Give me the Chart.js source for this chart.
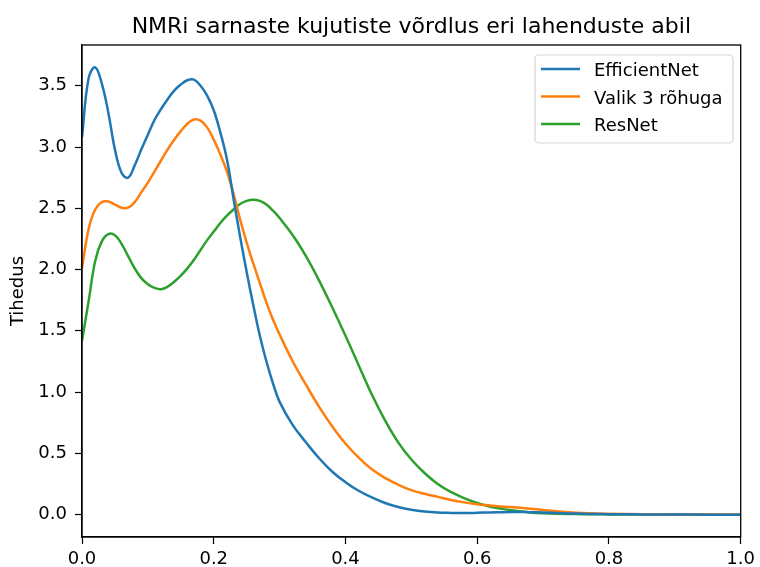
<!DOCTYPE html>
<html><head><meta charset="utf-8">
<script src="https://cdn.jsdelivr.net/npm/chart.js@4"></script>
<style>html,body{margin:0;padding:0;background:#fff}canvas{display:block}</style>
</head><body>
<canvas id="c" width="760" height="567"></canvas>
<script>
const chartTitle = "NMRi sarnaste kujutiste võrdlus eri lahenduste abil";
const yAxisLabel = "Tihedus";
const seriesNames = ["EfficientNet", "Valik 3 rõhuga", "ResNet"];
const seriesColors = ["#1f77b4", "#ff7f0e", "#2ca02c"];

const xValues = [
  0, 0.01, 0.02, 0.03, 0.04, 0.05, 0.06, 0.07, 0.08, 0.09,
  0.10, 0.11, 0.12, 0.13, 0.14, 0.15, 0.16, 0.17, 0.18, 0.19,
  0.20, 0.21, 0.22, 0.23, 0.24, 0.25, 0.26, 0.27, 0.28, 0.29,
  0.30, 0.32, 0.34, 0.36, 0.38,
  0.40, 0.42, 0.44, 0.46, 0.48,
  0.50, 0.52, 0.54, 0.56, 0.58,
  0.60, 0.62, 0.64, 0.66, 0.68,
  0.70, 0.72, 0.74, 0.76, 0.78,
  0.80, 0.85, 0.90, 0.95, 1.00
];
const efficientNet = [
  3.08, 3.56, 3.65, 3.52, 3.28, 2.98, 2.79, 2.75, 2.85, 2.98,
  3.10, 3.22, 3.31, 3.39, 3.46, 3.51, 3.545, 3.55, 3.50, 3.42,
  3.30, 3.12, 2.90, 2.58, 2.27, 1.98, 1.71, 1.46, 1.25, 1.07,
  0.92, 0.73, 0.59, 0.46, 0.35,
  0.265, 0.195, 0.14, 0.095, 0.063,
  0.04, 0.025, 0.017, 0.014, 0.013,
  0.015, 0.018, 0.02, 0.022, 0.02,
  0.017, 0.013, 0.01, 0.007, 0.005,
  0.004, 0.002, 0.001, 0, 0
];
const valik3 = [
  2.01, 2.33, 2.49, 2.55, 2.555, 2.53, 2.505, 2.505, 2.55, 2.63,
  2.71, 2.80, 2.89, 2.98, 3.06, 3.13, 3.19, 3.225, 3.215, 3.16,
  3.06, 2.94, 2.80, 2.62, 2.41, 2.22, 2.05, 1.89, 1.73, 1.59,
  1.47, 1.25, 1.06, 0.88, 0.72,
  0.58, 0.465, 0.37, 0.30, 0.245,
  0.20, 0.17, 0.145, 0.12, 0.10,
  0.085, 0.075, 0.065, 0.058, 0.048,
  0.038, 0.028, 0.02, 0.014, 0.01,
  0.007, 0.004, 0.002, 0.001, 0
];
const resNet = [
  1.42, 1.74, 2.07, 2.23, 2.29, 2.28, 2.21, 2.11, 2.01, 1.93,
  1.88, 1.85, 1.84, 1.86, 1.90, 1.95, 2.01, 2.08, 2.16, 2.24,
  2.31, 2.38, 2.44, 2.49, 2.535, 2.56, 2.57, 2.56, 2.53, 2.48,
  2.42, 2.28, 2.11, 1.91, 1.69,
  1.46, 1.22, 0.98, 0.77, 0.59,
  0.45, 0.34, 0.25, 0.185, 0.135,
  0.095, 0.065, 0.045, 0.03, 0.018,
  0.011, 0.007, 0.005, 0.004, 0.003,
  0.002, 0.001, 0.001, 0, 0
];
const xTicks = [0, 0.2, 0.4, 0.6, 0.8, 1.0];
const yTicks = [0, 0.5, 1.0, 1.5, 2.0, 2.5, 3.0, 3.5];

const FONT = "'DejaVu Sans', sans-serif";
const seriesValues = [efficientNet, valik3, resNet];

const datasets = seriesNames.map((name, i) => ({
  label: name,
  data: xValues.map((x, j) => ({ x: x, y: seriesValues[i][j] })),
  borderColor: seriesColors[i],
  backgroundColor: seriesColors[i],
  borderWidth: 2.5,
  pointRadius: 0,
  fill: false,
  tension: 0.4
}));

const framePlugin = {
  id: 'frameAndTitle',
  afterDatasetsDraw(chart) {
    const { ctx, chartArea: a } = chart;
    ctx.save();
    ctx.strokeStyle = '#000';
    ctx.lineWidth = 1.3;
    ctx.strokeRect(a.left, a.top, a.right - a.left, a.bottom - a.top);
    ctx.restore();
  },
  afterDraw(chart) {
    const { ctx, chartArea: a } = chart;
    ctx.save();
    ctx.fillStyle = '#000';
    ctx.font = "22px " + FONT;
    ctx.textAlign = 'center';
    ctx.textBaseline = 'alphabetic';
    ctx.fillText(chartTitle, (a.left + a.right) / 2, 33);
    const bx = 535, by = 55, bw = 198, bh = 88, r = 4;
    ctx.beginPath();
    ctx.moveTo(bx + r, by);
    ctx.arcTo(bx + bw, by, bx + bw, by + bh, r);
    ctx.arcTo(bx + bw, by + bh, bx, by + bh, r);
    ctx.arcTo(bx, by + bh, bx, by, r);
    ctx.arcTo(bx, by, bx + bw, by, r);
    ctx.closePath();
    ctx.fillStyle = 'rgba(255,255,255,0.8)';
    ctx.fill();
    ctx.strokeStyle = '#d6d6d6';
    ctx.lineWidth = 1.2;
    ctx.stroke();
    ctx.font = "18px " + FONT;
    ctx.textAlign = 'left';
    const rows = [69, 96.5, 124];
    seriesNames.forEach((name, i) => {
      ctx.strokeStyle = seriesColors[i];
      ctx.lineWidth = 2.5;
      ctx.beginPath();
      ctx.moveTo(541, rows[i]);
      ctx.lineTo(580, rows[i]);
      ctx.stroke();
      ctx.fillStyle = '#000';
      ctx.fillText(name, 594, rows[i] + 7);
    });
    ctx.restore();
  }
};

new Chart(document.getElementById('c'), {
  type: 'line',
  data: { datasets },
  plugins: [framePlugin],
  options: {
    responsive: false,
    animation: false,
    devicePixelRatio: 1,
    layout: { padding: { left: 0, right: 16, top: 45, bottom: 0 } },
    plugins: { legend: { display: false }, title: { display: false }, tooltip: { enabled: false } },
    scales: {
      x: {
        type: 'linear',
        min: 0, max: 1,
        afterBuildTicks(s) { s.ticks = xTicks.map(v => ({ value: v })); },
        afterFit(s) { s.height = 30; },
        ticks: {
          color: '#000', font: { family: FONT, size: 18 }, padding: 5,
          maxRotation: 0, autoSkip: false,
          callback: v => Number(v).toFixed(1)
        },
        grid: { drawOnChartArea: false, drawTicks: true, tickLength: 7, tickColor: '#000', tickWidth: 1.2 },
        border: { display: true, color: '#000', width: 1.3 }
      },
      y: {
        type: 'linear',
        min: -0.1825, max: 3.8325,
        afterBuildTicks(s) { s.ticks = yTicks.map(v => ({ value: v })); },
        afterFit(s) { s.width = 82; },
        ticks: {
          color: '#000', font: { family: FONT, size: 18 }, padding: 8,
          autoSkip: false,
          callback: v => Number(v).toFixed(1)
        },
        title: { display: true, text: yAxisLabel, color: '#000', font: { family: FONT, size: 18 }, padding: { top: 8, bottom: 0 } },
        grid: { drawOnChartArea: false, drawTicks: true, tickLength: 7, tickColor: '#000', tickWidth: 1.2 },
        border: { display: true, color: '#000', width: 1.3 }
      }
    }
  }
});
</script>
</body></html>
